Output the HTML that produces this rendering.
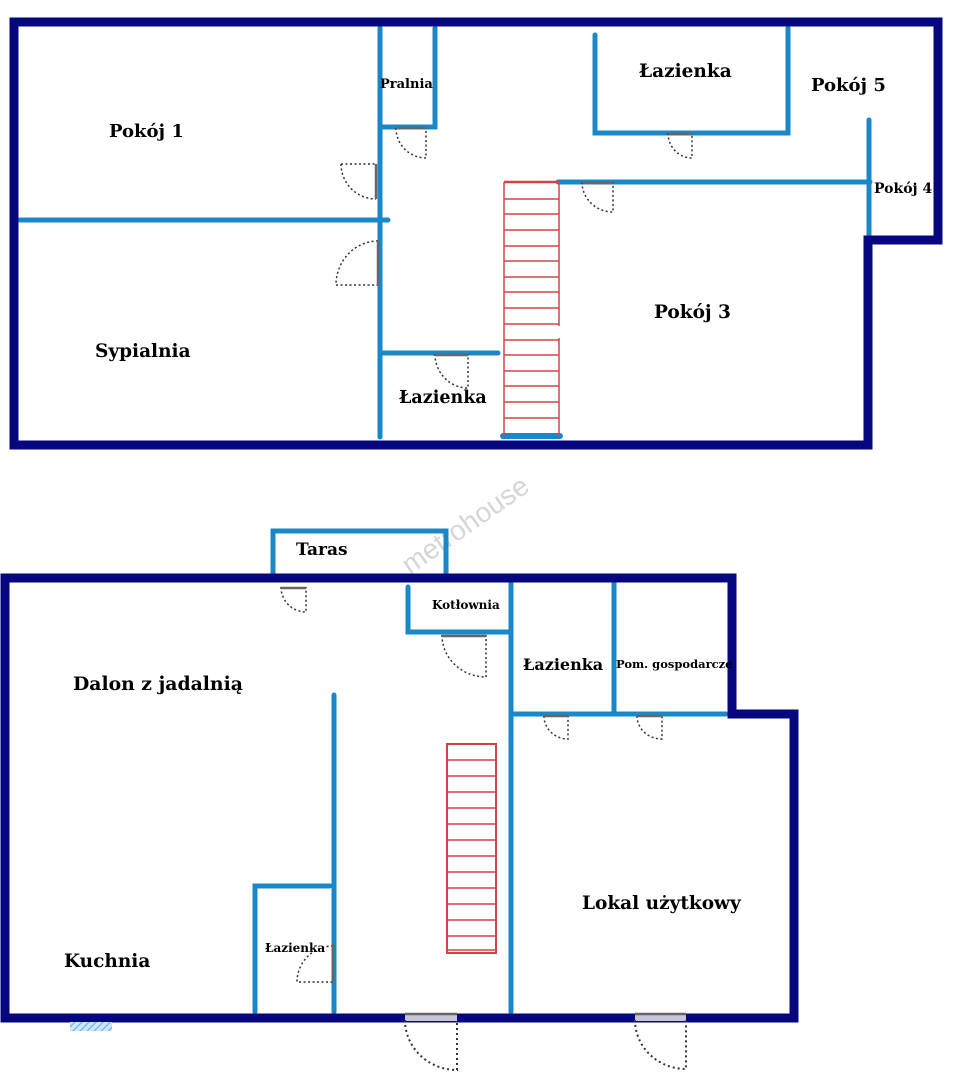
<!DOCTYPE html>
<html><head><meta charset="utf-8"><style>
html,body{margin:0;padding:0;background:#fff}
svg{display:block}
text{font-family:"DejaVu Serif","Liberation Serif",serif;font-weight:bold;fill:#000}
</style></head><body>
<svg width="962" height="1080" viewBox="0 0 962 1080" xmlns="http://www.w3.org/2000/svg">
<defs>
<pattern id="h" width="5" height="5" patternUnits="userSpaceOnUse" patternTransform="rotate(45)">
<rect width="5" height="5" fill="#cfe6f7"/><line x1="0" y1="0" x2="0" y2="5" stroke="#6fb4e6" stroke-width="2.5"/></pattern>
</defs>
<!-- TOP PLAN -->
<g fill="none" stroke="#1a88c8" stroke-width="5" stroke-linecap="round">
<line x1="380" y1="28" x2="380" y2="437"/>
<polyline points="435,28 435,127 380,127"/>
<line x1="20" y1="220" x2="388" y2="220"/>
<line x1="380" y1="353" x2="498" y2="353"/>
<polyline points="595,35 595,133 788,133 788,28"/>
<line x1="558" y1="182" x2="870" y2="182"/>
<line x1="869" y1="120" x2="869" y2="236"/>
<line x1="503" y1="436" x2="560" y2="436" stroke-width="6"/>
</g>
<g stroke="#d0454a" stroke-width="1.5" fill="none">
<line x1="504" y1="182" x2="504" y2="436"/>
<line x1="559" y1="182" x2="559" y2="326"/>
<line x1="559" y1="338" x2="559" y2="436"/>
<line x1="504" y1="182" x2="559" y2="182" stroke-width="2.5"/>
<path d="M504 199H559M504 214H559M504 230H559M504 246H559M504 261H559M504 277H559M504 292H559M504 308H559M504 324H559M504 340H559M504 355H559M504 371H559M504 386H559M504 402H559M504 418H559"/>
</g>
<polygon points="14,22 938,22 938,240 868,240 868,445 14,445" fill="none" stroke="#06067e" stroke-width="9"/>
<g fill="none" stroke="#333" stroke-width="1.5" stroke-dasharray="2,2.5">
<path d="M396 128 A30 30 0 0 0 426 158 V128"/>
<path d="M341 164 H376 M341 164 A35 35 0 0 0 376 199"/>
<path d="M378 241 A42 44 0 0 0 336 285 H378"/>
<path d="M435 354 A33 34 0 0 0 468 388 V354"/>
<path d="M582 182 A31 30 0 0 0 613 212 V182"/>
<path d="M668 133 A24 25 0 0 0 692 158 V133"/>
</g>
<g stroke="#666" stroke-width="2.5">
<line x1="396" y1="128" x2="426" y2="128"/>
<line x1="376" y1="164" x2="376" y2="199"/>
<line x1="378" y1="241" x2="378" y2="285"/>
<line x1="435" y1="355" x2="468" y2="355"/>
<line x1="582" y1="183" x2="613" y2="183"/>
<line x1="668" y1="134" x2="692" y2="134"/>
</g>
<text x="109" y="137" font-size="18">Pokój 1</text>
<text x="380" y="88" font-size="13">Pralnia</text>
<text x="639" y="77" font-size="18.5">Łazienka</text>
<text x="811" y="91" font-size="18">Pokój 5</text>
<text x="874" y="193" font-size="14">Pokój 4</text>
<text x="654" y="318" font-size="18.5">Pokój 3</text>
<text x="95" y="357" font-size="18.5">Sypialnia</text>
<text x="399" y="403" font-size="17.5">Łazienka</text>

<text x="410" y="575" font-size="28" style="fill:#d6d6d6;font-family:'Liberation Sans',sans-serif;font-weight:normal" transform="rotate(-35 410 575)">metrohouse</text>

<!-- BOTTOM PLAN -->
<g fill="none" stroke="#1a88c8" stroke-width="5" stroke-linecap="round">
<polyline points="273,575 273,531 446,531 446,575"/>
<polyline points="408,587 408,632 510,632"/>
<line x1="511" y1="582" x2="511" y2="1012"/>
<line x1="614" y1="582" x2="614" y2="714"/>
<line x1="511" y1="714" x2="726" y2="714"/>
<line x1="334" y1="695" x2="334" y2="1012"/>
<polyline points="255,1012 255,886 330,886"/>
</g>
<g stroke="#d0454a" stroke-width="1.5" fill="none">
<rect x="447" y="744" width="49" height="209" stroke-width="2"/>
<path d="M447 760H496M447 776H496M447 792H496M447 808H496M447 824H496M447 840H496M447 856H496M447 872H496M447 888H496M447 904H496M447 920H496M447 936H496M447 950H496"/>
</g>
<polygon points="5,578 732,578 732,714 794,714 794,1018 5,1018" fill="none" stroke="#06067e" stroke-width="9"/>
<rect x="70" y="1022" width="42" height="9" fill="url(#h)"/>
<g fill="#c8c4dc"><rect x="405" y="1014" width="52" height="7"/><rect x="635" y="1014" width="51" height="7"/></g>
<g fill="none" stroke="#333" stroke-width="1.5" stroke-dasharray="2,2.5">
<path d="M281 587 A25 25 0 0 0 306 612 V587"/>
<path d="M442 635 A44 42 0 0 0 486 677 V635"/>
<path d="M544 716 A24 23 0 0 0 568 739 V716"/>
<path d="M637 716 A25 23 0 0 0 662 739 V716"/>
<path d="M333 946 A36 36 0 0 0 297 982 H333"/>
<path d="M405 1020 A52 50 0 0 0 457 1070 V1020" stroke-width="2" stroke-dasharray="2,3"/>
<path d="M635 1020 A51 49 0 0 0 686 1069 V1020" stroke-width="2" stroke-dasharray="2,3"/>
</g>
<g stroke="#666" stroke-width="2.5">
<line x1="281" y1="588" x2="306" y2="588"/>
<line x1="442" y1="636" x2="486" y2="636"/>
<line x1="544" y1="716" x2="568" y2="716"/>
<line x1="637" y1="716" x2="662" y2="716"/>
<line x1="333" y1="944" x2="333" y2="982"/>
<line x1="405" y1="1014" x2="457" y2="1014"/>
<line x1="635" y1="1014" x2="686" y2="1014"/>
</g>
<text x="296" y="555" font-size="17">Taras</text>
<text x="432" y="609" font-size="12">Kotłownia</text>
<text x="73" y="690" font-size="18.8">Dalon z jadalnią</text>
<text x="523" y="670" font-size="16">Łazienka</text>
<text x="616" y="668" font-size="11.5">Pom. gospodarcze</text>
<text x="582" y="909" font-size="18.5">Lokal użytkowy</text>
<text x="64" y="967" font-size="18.5">Kuchnia</text>
<text x="265" y="952" font-size="12">Łazienka</text>
</svg>
</body></html>
